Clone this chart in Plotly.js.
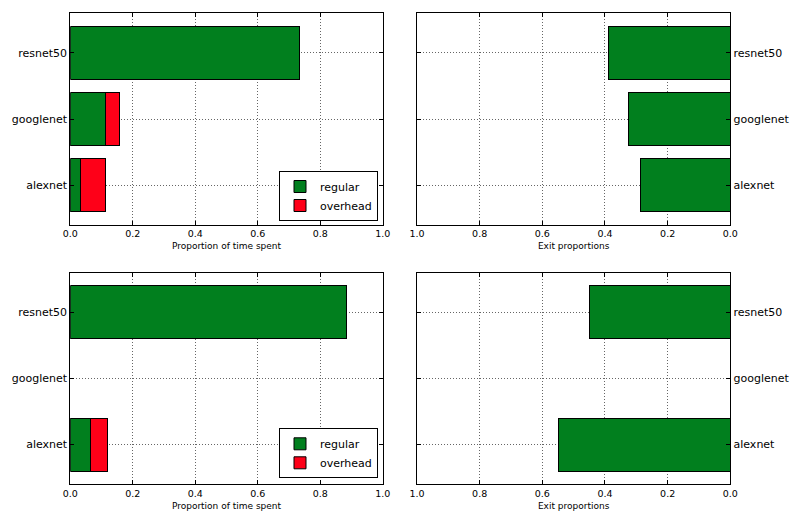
<!DOCTYPE html>
<html>
<head>
<meta charset="utf-8">
<script src="https://cdn.plot.ly/plotly-3.0.1.min.js"></script>
<style>html,body{margin:0;padding:0;background:#fff;}#chart{width:800px;height:515px;}</style>
</head>
<body>
<div id="chart"></div>
<script>
const networks = ["alexnet", "googlenet", "resnet50"];
// top row
const topRegular = [0.034, 0.114, 0.735];
const topOverhead = [0.080, 0.042, 0.0];
const topExit = [0.286, 0.326, 0.388];
// bottom row
const bottomRegular = [0.065, 0.0, 0.885];
const bottomOverhead = [0.053, 0.0, 0.0];
const bottomExit = [0.547, 0.0, 0.451];
const xTicks = [0, 0.2, 0.4, 0.6, 0.8, 1.0];

const GREEN = "#017f1e";
const RED = "#fe0018";
// outline only drawn for non-empty bars
const outline = (vals) => ({color: "#000", width: vals.map(v => v > 0 ? 1 : 0)});

const traces = [
  {type: "bar", orientation: "h", y: networks, x: topRegular, name: "regular",
   marker: {color: GREEN, line: outline(topRegular)}, xaxis: "x", yaxis: "y", legend: "legend"},
  {type: "bar", orientation: "h", y: networks, x: topOverhead, name: "overhead",
   marker: {color: RED, line: outline(topOverhead)}, xaxis: "x", yaxis: "y", legend: "legend"},
  {type: "bar", orientation: "h", y: networks, x: topExit, name: "exit",
   marker: {color: GREEN, line: outline(topExit)}, xaxis: "x2", yaxis: "y2", showlegend: false},
  {type: "bar", orientation: "h", y: networks, x: bottomRegular, name: "regular",
   marker: {color: GREEN, line: outline(bottomRegular)}, xaxis: "x3", yaxis: "y3", legend: "legend2"},
  {type: "bar", orientation: "h", y: networks, x: bottomOverhead, name: "overhead",
   marker: {color: RED, line: outline(bottomOverhead)}, xaxis: "x3", yaxis: "y3", legend: "legend2"},
  {type: "bar", orientation: "h", y: networks, x: bottomExit, name: "exit",
   marker: {color: GREEN, line: outline(bottomExit)}, xaxis: "x4", yaxis: "y4", showlegend: false}
];

const fontFam = "DejaVu Sans, sans-serif";
const GRID = {showgrid: true, gridcolor: "#666", griddash: "1px,2px", gridwidth: 1};
function xax(domain, anchor, reversed, title) {
  return Object.assign({
    domain: domain, anchor: anchor,
    range: reversed ? [1, 0] : [0, 1],
    tickvals: xTicks, tickformat: ".1f",
    showline: true, linecolor: "#000", linewidth: 1, mirror: "ticks",
    ticks: "inside", ticklen: 4, tickcolor: "#000",
    zeroline: false,
    tickfont: {family: fontFam, size: 9.5, color: "#000"},
    title: {text: title, font: {family: fontFam, size: 9, color: "#000"}, standoff: 4},
    fixedrange: true
  }, GRID);
}
function yax(domain, anchor, side) {
  return Object.assign({
    domain: domain, anchor: anchor, side: side,
    type: "category", categoryorder: "array", categoryarray: networks,
    range: [-0.6, 2.6],
    showline: true, linecolor: "#000", linewidth: 1, mirror: "ticks",
    ticks: "inside", ticklen: 4, tickcolor: "#000",
    zeroline: false,
    tickfont: {family: fontFam, size: 11, color: "#000"},
    fixedrange: true
  }, GRID);
}

const W = 800, H = 515;
const xdL = [70.3 / W, 382.7 / W];
const xdR = [417 / W, 730.3 / W];
const ydT = [1 - 225 / H, 1 - 13.3 / H];
const ydB = [1 - 484.3 / H, 1 - 272.7 / H];

const legendStyle = (y) => ({
  x: 378 / W, y: y, xanchor: "right", yanchor: "bottom",
  bgcolor: "#fff", bordercolor: "#000", borderwidth: 1,
  font: {family: fontFam, size: 11, color: "#000"},
  itemwidth: 30,
  traceorder: "normal", tracegroupgap: 0
});

const layout = {
  width: W, height: H,
  margin: {l: 0, r: 0, t: 0, b: 0},
  paper_bgcolor: "#fff", plot_bgcolor: "#fff",
  barmode: "stack", bargap: 0.2,
  font: {family: fontFam, color: "#000"},
  showlegend: true,
  xaxis: xax(xdL, "y", false, "Proportion of time spent"),
  yaxis: yax(ydT, "x", "left"),
  xaxis2: xax(xdR, "y2", true, "Exit proportions"),
  yaxis2: yax(ydT, "x2", "right"),
  xaxis3: xax(xdL, "y3", false, "Proportion of time spent"),
  yaxis3: yax(ydB, "x3", "left"),
  xaxis4: xax(xdR, "y4", true, "Exit proportions"),
  yaxis4: yax(ydB, "x4", "right"),
  legend: legendStyle(1 - 221 / H),
  legend2: legendStyle(1 - 478.3 / H)
};

Plotly.newPlot("chart", traces, layout, {displayModeBar: false, staticPlot: true});
</script>
</body>
</html>
